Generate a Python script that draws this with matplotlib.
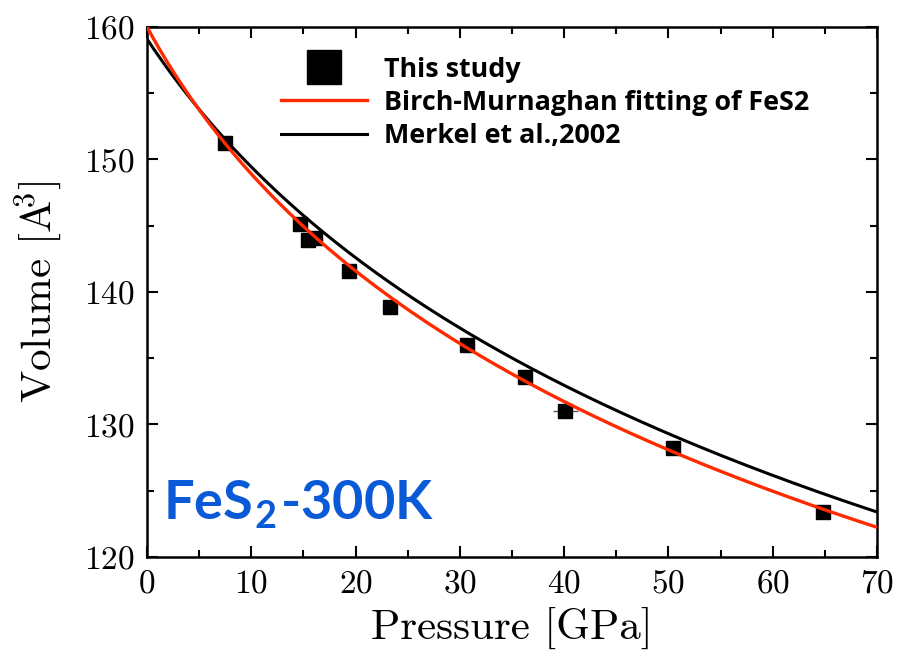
import numpy as np
import matplotlib
matplotlib.use("Agg")
import matplotlib.pyplot as plt
from matplotlib.ticker import MultipleLocator

plt.rcParams["mathtext.fontset"] = "custom"
plt.rcParams["mathtext.rm"] = "cmr10"
plt.rcParams["mathtext.sf"] = "Lato:bold"
plt.rcParams["mathtext.default"] = "rm"
plt.rcParams["axes.formatter.use_mathtext"] = True

# Measured compression data (P in GPa, V in A^3)
pressure = [7.5, 14.7, 15.4, 16.1, 19.4, 23.3, 30.7, 36.2, 40.1, 50.4, 64.8]
volume = [151.25, 145.1, 143.9, 144.1, 141.6, 138.9, 136.0, 133.6, 131.0, 128.2, 123.4]
p_err = [0.3, 0.4, 0.4, 0.5, 0.4, 0.3, 0.4, 0.5, 1.2, 0.6, 0.5]
v_err = [0.3, 0.3, 0.4, 0.3, 0.5, 0.4, 0.3, 0.3, 0.4, 0.4, 0.4]

# Third-order Birch-Murnaghan parameters: V0 [A^3], K0 [GPa], K0'
bm_fit = dict(V0=160.0, K0=110.3, Kp=6.54)
merkel = dict(V0=159.1, K0=133.5, Kp=5.73)


def bm3_pressure(v, V0, K0, Kp):
    x = (V0 / v) ** (2.0 / 3.0)
    return 1.5 * K0 * (x ** 3.5 - x ** 2.5) * (1 + 0.75 * (Kp - 4) * (x - 1))


def eos_curve(params):
    v = np.linspace(params["V0"], 115, 600)
    p = bm3_pressure(v, **params)
    keep = p <= 72
    return p[keep], v[keep]


fig = plt.figure(figsize=(9.09, 6.53), dpi=100)
ax = fig.add_axes([147 / 909, 1 - 557 / 653, 730 / 909, 530 / 653])

p_fit, v_fit = eos_curve(bm_fit)
p_mk, v_mk = eos_curve(merkel)

ax.errorbar(pressure, volume, xerr=p_err, yerr=v_err, fmt="none",
            ecolor="#555555", elinewidth=1.0, capsize=0, zorder=3)
ax.plot(pressure, volume, "s", color="black", markersize=10,
        label="This study", zorder=4, linestyle="none")
ax.plot(p_fit, v_fit, color="#ff2a00", lw=2.4,
        label="Birch-Murnaghan fitting of FeS2", zorder=5)
ax.plot(p_mk, v_mk, color="black", lw=2.2,
        label="Merkel et al.,2002", zorder=2)

ax.set_xlim(0, 70)
ax.set_ylim(120, 160)
ax.xaxis.set_major_locator(MultipleLocator(10))
ax.xaxis.set_minor_locator(MultipleLocator(5))
ax.yaxis.set_major_locator(MultipleLocator(10))
ax.yaxis.set_minor_locator(MultipleLocator(5))

ax.tick_params(which="both", direction="in", top=True, right=True,
               width=1.5, colors="black")
ax.tick_params(which="major", length=8, pad=9)
ax.tick_params(which="minor", length=5)
for lab in ax.get_xticklabels() + ax.get_yticklabels():
    lab.set_fontfamily("cmr10")
    lab.set_fontsize(24)
for s in ax.spines.values():
    s.set_linewidth(1.8)

ax.set_xlabel("Pressure [GPa]", family="cmr10", fontsize=31, labelpad=6)
ax.set_ylabel("Volume [$\\mathrm{A}^{\\!\\!3}$]", family="cmr10",
              fontsize=31, labelpad=14)

leg = ax.legend(loc="upper left", bbox_to_anchor=(0.150, 0.990), frameon=False,
                prop=dict(family="Open Sans", weight="bold", size=19.4),
                handlelength=3.2, handletextpad=0.62, labelspacing=0.27,
                markerscale=2.4)

ax.text(0.022, 0.07, "FeS$_{\\mathsf{2}}$-300K", transform=ax.transAxes,
        family="Lato", weight="bold", fontsize=39, color="#0a5ad8",
        ha="left", va="baseline")

fig.savefig("out.png", dpi=100)
